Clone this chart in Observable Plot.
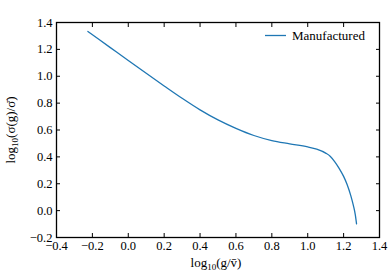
<!DOCTYPE html>
<html>
<head>
<meta charset="utf-8">
<script src="https://cdn.jsdelivr.net/npm/d3@7"></script>
<script src="https://cdn.jsdelivr.net/npm/@observablehq/plot@0.6"></script>
<style>
  body { margin: 0; background: #fff; }
  svg, svg text, svg tspan { font-family: "Liberation Serif", serif !important; }
</style>
</head>
<body>
<div id="chart"></div>
<script>
const logG = [-0.225, -0.1, 0.0, 0.1, 0.2, 0.3, 0.4, 0.5, 0.6, 0.7, 0.8, 0.9, 1.0, 1.05, 1.1, 1.125, 1.15, 1.175, 1.2, 1.22, 1.24, 1.255, 1.265, 1.272];
const logSigma = [1.333, 1.213, 1.117, 1.022, 0.928, 0.836, 0.75, 0.675, 0.612, 0.559, 0.521, 0.497, 0.474, 0.457, 0.428, 0.405, 0.365, 0.315, 0.255, 0.193, 0.112, 0.035, -0.03, -0.098];
const seriesName = "Manufactured";
const xTicks = [-0.4, -0.2, 0.0, 0.2, 0.4, 0.6, 0.8, 1.0, 1.2, 1.4];
const yTicks = [-0.2, 0.0, 0.2, 0.4, 0.6, 0.8, 1.0, 1.2, 1.4];

const data = logG.map((x, i) => ({x, y: logSigma[i]}));
const fmt = d => (d < -1e-9 ? "\u2212" : "") + Math.abs(d).toFixed(1);

const chart = Plot.plot({
  width: 392,
  height: 280,
  marginLeft: 56,
  marginRight: 13,
  marginTop: 22,
  marginBottom: 43,
  style: {fontSize: "12.5px", fontFamily: "Liberation Serif, serif", background: "#fff"},
  x: {domain: [-0.4, 1.4]},
  y: {domain: [-0.2, 1.4]},
  marks: [
    Plot.axisX({ticks: xTicks, anchor: "bottom", tickSize: -4, tickPadding: 8, tickFormat: fmt, label: null, stroke: "#000", fill: "#000"}),
    Plot.axisX({ticks: xTicks, anchor: "top", tickSize: -4, tickFormat: () => "", label: null, stroke: "#000"}),
    Plot.axisY({ticks: yTicks, anchor: "left", tickSize: -4, tickPadding: 8, tickFormat: fmt, label: null, stroke: "#000", fill: "#000"}),
    Plot.axisY({ticks: yTicks, anchor: "right", tickSize: -4, tickFormat: () => "", label: null, stroke: "#000"}),
    Plot.line(data, {x: "x", y: "y", stroke: "#1f77b4", strokeWidth: 1.3, curve: "monotone-x"}),
    Plot.frame({stroke: "#000", strokeWidth: 1.3})
  ]
});

const svg = d3.select(chart);
svg.selectAll('g[aria-label$="tick label"] text').style("font-size", "12.5px");

// legend
const lg = svg.append("g").attr("text-anchor", "start");
lg.append("line").attr("x1", 265).attr("x2", 286).attr("y1", 35.5).attr("y2", 35.5)
  .attr("stroke", "#1f77b4").attr("stroke-width", 1.3);
lg.append("text").attr("x", 292).attr("y", 40).style("font-size", "13px").attr("fill", "#000").text(seriesName);

// x label
const xl = svg.append("text").attr("x", 216).attr("y", 267).attr("text-anchor", "middle").style("font-size", "13px").attr("fill", "#000");
xl.append("tspan").text("log");
xl.append("tspan").style("font-size", "9px").attr("dy", 3).text("10");
xl.append("tspan").attr("dy", -3).text("(g/v\u0304)");

// y label
const yl = svg.append("text").attr("transform", "translate(15,130) rotate(-90)").attr("text-anchor", "middle").style("font-size", "13px").attr("fill", "#000");
yl.append("tspan").text("log");
yl.append("tspan").style("font-size", "9px").attr("dy", 3).text("10");
yl.append("tspan").attr("dy", -3).text("(\u03c3(g)/\u03c3\u0304)");

document.getElementById("chart").appendChild(chart);
</script>
</body>
</html>
